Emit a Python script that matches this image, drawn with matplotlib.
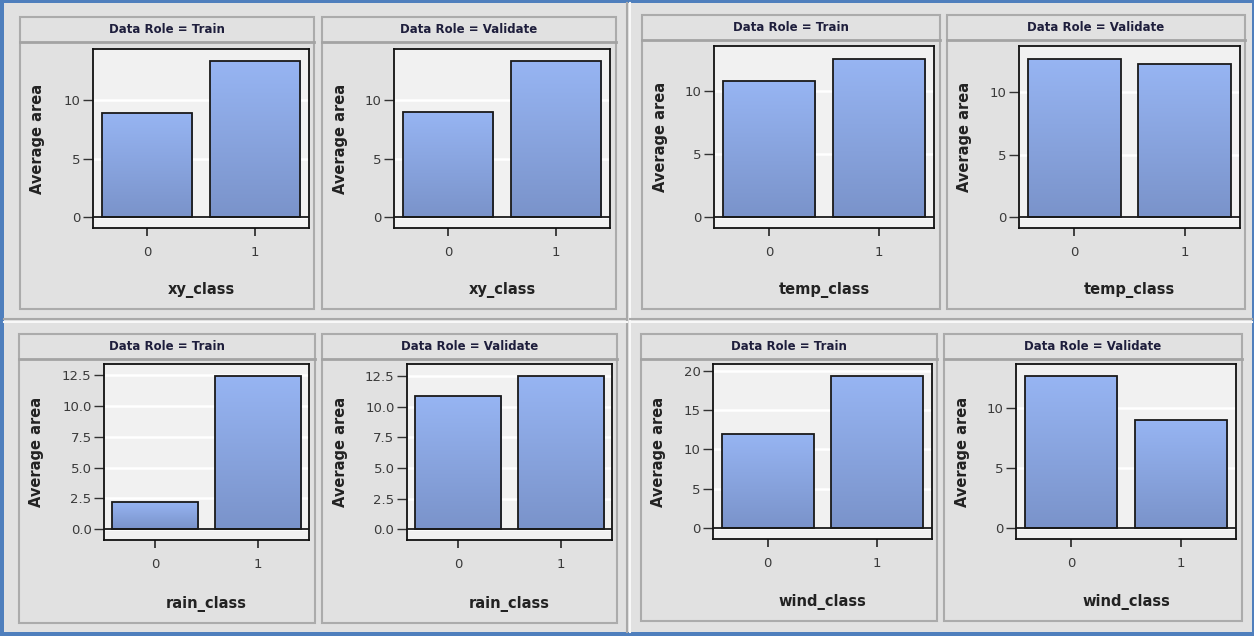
import numpy as np
import matplotlib
matplotlib.use("Agg")
import matplotlib.pyplot as plt
from matplotlib.colors import LinearSegmentedColormap
from matplotlib.patches import Rectangle
from matplotlib.transforms import Affine2D
from matplotlib.ticker import MultipleLocator

# values
variables = ["xy_class", "temp_class", "rain_class", "wind_class"]
roles = ["Train", "Validate"]
categories = ["0", "1"]
train_avg = [[8.9, 13.3], [10.8, 12.6], [2.2, 12.4], [12.0, 19.3]]
validate_avg = [[9.0, 13.3], [12.7, 12.3], [10.9, 12.5], [12.6, 9.0]]
tick_step = [5, 5, 2.5, 5]

W, H = 1254, 636
BG = "#e1e1e1"
PLOT_BG = "#f1f1f1"
BAR_EDGE = "#1a1a1a"
bar_cmap = LinearSegmentedColormap.from_list("bar", ["#7a93ca", "#97b5f3"])

# panel layout in pixels (x0, y0, x1, y1), y measured from the top
frames = {
    (0, 0): (20, 17, 314, 309), (0, 1): (322, 17, 616, 309),
    (1, 0): (642, 15, 940, 309), (1, 1): (947, 15, 1245, 309),
    (2, 0): (19, 334, 315, 623), (2, 1): (322, 334, 617, 623),
    (3, 0): (641, 334, 937, 621), (3, 1): (944, 334, 1242, 621),
}
axboxes = {
    (0, 0): (93, 49, 309, 228), (0, 1): (394, 49, 610, 228),
    (1, 0): (714, 46, 934, 228), (1, 1): (1019, 46, 1240, 228),
    (2, 0): (104, 364, 309, 540), (2, 1): (407, 364, 612, 540),
    (3, 0): (713, 364, 932, 539), (3, 1): (1016, 364, 1236, 539),
}

fig = plt.figure(figsize=(W / 100, H / 100), dpi=100)
fig.patch.set_facecolor("#4f7fbd")
px = Affine2D().scale(1 / W, -1 / H).translate(0, 1) + fig.transFigure


def px_rect(x0, y0, x1, y1, z=-2, **kw):
    fig.add_artist(Rectangle((x0, y0), x1 - x0, y1 - y0, transform=px, zorder=z, **kw))


def px_line(xs, ys, **kw):
    fig.add_artist(plt.Line2D(xs, ys, transform=px, zorder=-1, **kw))


# gray canvas inside the blue border, plus quadrant separators
px_rect(4, 3, 1252, 632, z=-3, facecolor=BG, edgecolor="none")
px_line([627, 627], [3, 632], color="#a9a9a9", lw=1.5)
px_line([629.5, 629.5], [3, 632], color="#f8f8f8", lw=1.5)
px_line([4, 627], [319, 319], color="#a9a9a9", lw=1.5)
px_line([4, 627], [321.5, 321.5], color="#f8f8f8", lw=1.5)
px_line([630, 1252], [319, 319], color="#a9a9a9", lw=1.5)
px_line([630, 1252], [321.5, 321.5], color="#f8f8f8", lw=1.5)

grad = np.linspace(0, 1, 256).reshape(-1, 1)
x = np.arange(len(categories))

for iv, var in enumerate(variables):
    for ir, role in enumerate(roles):
        vals = (train_avg if ir == 0 else validate_avg)[iv]
        fx0, fy0, fx1, fy1 = frames[(iv, ir)]
        ax0, ay0, ax1, ay1 = axboxes[(iv, ir)]

        # panel frame and header strip
        px_rect(fx0, fy0, fx1, fy1, facecolor=BG, edgecolor="#ababab", lw=1.5)
        px_line([fx0, fx1], [fy0 + 25, fy0 + 25], color="#a3a3a3", lw=2)
        fig.text((fx0 + fx1) / 2 / W, 1 - (fy0 + 12.5) / H, f"Data Role = {role}",
                 ha="center", va="center", fontsize=8.5, fontweight="bold", color="#1e1e3c")

        ax = fig.add_axes([ax0 / W, 1 - ay1 / H, (ax1 - ax0) / W, (ay1 - ay0) / H])
        ax.set_facecolor(PLOT_BG)
        ax.set_axisbelow(True)

        bars = ax.bar(x, vals, width=0.84, facecolor="none", edgecolor=BAR_EDGE,
                      lw=1.3, zorder=3)
        for b in bars:
            bx, bw, bh = b.get_x(), b.get_width(), b.get_height()
            im = ax.imshow(grad, cmap=bar_cmap, origin="lower", aspect="auto",
                           extent=(bx, bx + bw, 0, bh), zorder=2)
            im.set_clip_path(b)
        ax.axhline(0, color=BAR_EDGE, lw=1.3, zorder=4)

        top = max(vals) * 1.08
        ax.set_xlim(-0.5, 1.5)
        ax.set_ylim(-0.065 * top, top)
        ax.yaxis.set_major_locator(MultipleLocator(tick_step[iv]))
        ax.yaxis.grid(True, color="white", lw=1.8)
        ax.set_xticks(x)
        ax.set_xticklabels(categories)

        for sp in ax.spines.values():
            sp.set_color("#111111")
            sp.set_linewidth(1.3)
        ax.tick_params(axis="y", length=7, width=1, color="#333333", pad=2,
                       labelsize=9.5, labelcolor="#3a3a3a")
        ax.tick_params(axis="x", length=6, width=1.3, color="#333333", pad=7,
                       labelsize=9.5, labelcolor="#3a3a3a")

        ah = ay1 - ay0
        aw = ax1 - ax0
        ax.set_ylabel("Average area", fontsize=10.5, fontweight="bold", color="#222222",
                      va="center")
        ax.yaxis.set_label_coords((fx0 + 18 - ax0) / aw, 0.5)
        ax.set_xlabel(var, fontsize=10.5, fontweight="bold", color="#222222", va="center")
        ax.xaxis.set_label_coords(0.5, (ay1 - (fy1 - 19)) / ah)

fig.savefig("out.png", dpi=100, facecolor=fig.get_facecolor())
